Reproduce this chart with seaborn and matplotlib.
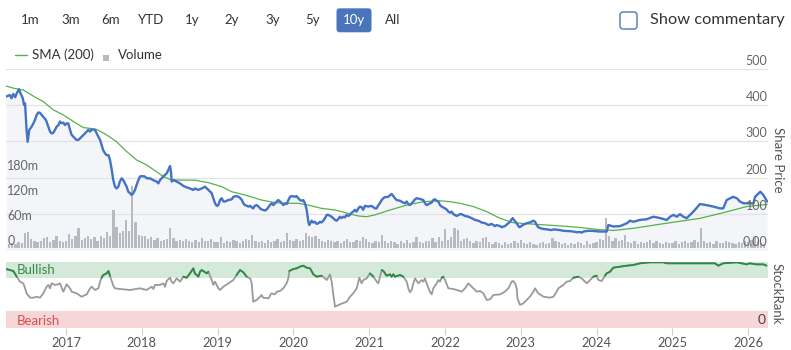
import numpy as np
import pandas as pd
import matplotlib
matplotlib.use("Agg")
import matplotlib.pyplot as plt
import matplotlib.transforms as mtrans
from matplotlib.patches import FancyBboxPatch, Rectangle
from matplotlib.lines import Line2D
import seaborn as sns

# ---------------------------------------------------------------- data
price_t = [2016.21, 2016.26, 2016.28, 2016.305, 2016.33, 2016.35, 2016.38, 2016.40, 2016.43, 2016.446,
           2016.46, 2016.48, 2016.494, 2016.516, 2016.547, 2016.57, 2016.59, 2016.613, 2016.635, 2016.657,
           2016.68, 2016.70, 2016.736, 2016.767, 2016.79, 2016.81, 2016.833, 2016.855, 2016.877, 2016.90,
           2016.92, 2016.943, 2016.965, 2016.987, 2017.009, 2017.03, 2017.053, 2017.075, 2017.097, 2017.14,
           2017.163, 2017.207, 2017.25, 2017.273, 2017.295, 2017.317, 2017.34, 2017.383, 2017.405, 2017.427,
           2017.45, 2017.47, 2017.49, 2017.515, 2017.536, 2017.56, 2017.58, 2017.60, 2017.624, 2017.646,
           2017.668, 2017.69, 2017.71, 2017.734, 2017.756, 2017.778, 2017.80, 2017.822, 2017.844, 2017.866,
           2017.888, 2017.91, 2017.932, 2017.954, 2017.976, 2017.998, 2018.042, 2018.064, 2018.108, 2018.152,
           2018.196, 2018.218, 2018.24, 2018.284, 2018.328, 2018.35, 2018.372, 2018.385, 2018.394, 2018.416,
           2018.46, 2018.504, 2018.548, 2018.592, 2018.636, 2018.68, 2018.702, 2018.746, 2018.79, 2018.834,
           2018.878, 2018.922, 2018.944, 2018.966, 2018.988, 2019.01, 2019.032, 2019.054, 2019.076, 2019.098,
           2019.142, 2019.186, 2019.208, 2019.25, 2019.275, 2019.30, 2019.32, 2019.34, 2019.36, 2019.41,
           2019.43, 2019.45, 2019.47, 2019.49, 2019.516, 2019.54, 2019.56, 2019.58, 2019.626, 2019.648,
           2019.67, 2019.69, 2019.714, 2019.736, 2019.758, 2019.78, 2019.80, 2019.824, 2019.846, 2019.868,
           2019.89, 2019.912, 2019.934, 2019.956, 2019.978, 2020.02, 2020.04, 2020.065, 2020.087, 2020.11,
           2020.13, 2020.153, 2020.175, 2020.188, 2020.197, 2020.21, 2020.24, 2020.26, 2020.285, 2020.306,
           2020.33, 2020.35, 2020.37, 2020.395, 2020.417, 2020.44, 2020.46, 2020.504, 2020.55, 2020.57,
           2020.59, 2020.614, 2020.636, 2020.658, 2020.68, 2020.70, 2020.724, 2020.746, 2020.768, 2020.79,
           2020.81, 2020.834, 2020.856, 2020.878, 2020.90, 2020.92, 2020.944, 2020.99, 2021.03, 2021.076,
           2021.098, 2021.12, 2021.14, 2021.164, 2021.186, 2021.208, 2021.25, 2021.296, 2021.34, 2021.362,
           2021.406, 2021.45, 2021.472, 2021.494, 2021.516, 2021.538, 2021.56, 2021.582, 2021.604, 2021.626,
           2021.67, 2021.714, 2021.736, 2021.758, 2021.802, 2021.824, 2021.846, 2021.868, 2021.89, 2021.912,
           2021.934, 2021.956, 2022.0, 2022.022, 2022.044, 2022.066, 2022.088, 2022.11, 2022.154, 2022.198,
           2022.22, 2022.264, 2022.308, 2022.352, 2022.396, 2022.44, 2022.484, 2022.528, 2022.572, 2022.616,
           2022.66, 2022.68, 2022.726, 2022.748, 2022.79, 2022.836, 2022.858, 2022.88, 2022.893, 2022.91,
           2022.937, 2022.96, 2022.98, 2023.0, 2023.024, 2023.077, 2023.12, 2023.166, 2023.188, 2023.21,
           2023.23, 2023.275, 2023.341, 2023.407, 2023.43, 2023.517, 2023.56, 2023.65, 2023.693, 2023.737,
           2023.78, 2023.803, 2023.825, 2023.89, 2023.935, 2024.045, 2024.133, 2024.155, 2024.22, 2024.31,
           2024.40, 2024.44, 2024.485, 2024.57, 2024.66, 2024.75, 2024.84, 2024.925, 2024.97, 2025.013,
           2025.057, 2025.10, 2025.144, 2025.188, 2025.276, 2025.364, 2025.45, 2025.54, 2025.628, 2025.67,
           2025.716, 2025.80, 2025.85, 2025.89, 2025.94, 2026.03, 2026.07, 2026.09, 2026.16, 2026.20,
           2026.25]
price = [424, 428, 419, 431, 422, 433, 444, 433, 419, 401,
         405, 332, 299, 332, 341, 350, 359, 373, 380, 379,
         373, 368, 359, 341, 327, 322, 324, 332, 341, 345,
         355, 350, 352, 345, 350, 350, 332, 318, 313, 304,
         304, 313, 322, 327, 332, 327, 333, 332, 322, 313,
         304, 290, 276, 267, 262, 262, 249, 226, 193, 175,
         170, 175, 189, 198, 193, 184, 175, 161, 157, 152,
         157, 166, 180, 193, 203, 204, 203, 198, 198, 193,
         189, 184, 193, 203, 212, 221, 232, 216, 189, 193,
         189, 184, 177, 173, 170, 166, 170, 166, 170, 175,
         166, 157, 143, 129, 122, 124, 138, 143, 134, 134,
         138, 140, 147, 149, 147, 143, 138, 129, 124, 120,
         122, 118, 115, 122, 124, 120, 115, 112, 109, 112,
         118, 124, 129, 124, 129, 134, 138, 134, 129, 124,
         129, 127, 138, 147, 149, 147, 149, 143, 138, 136,
         138, 129, 111, 92, 78, 69, 81, 76, 78, 72,
         74, 78, 76, 81, 88, 97, 97, 92, 83, 81,
         85, 92, 88, 92, 90, 97, 94, 97, 103, 106,
         111, 106, 115, 120, 118, 111, 122, 120, 122, 115,
         115, 124, 129, 138, 143, 146, 147, 155, 143, 138,
         136, 131, 129, 134, 127, 124, 129, 134, 140, 143,
         141, 138, 129, 124, 129, 131, 138, 140, 136, 134,
         124, 120, 115, 112, 106, 103, 106, 99, 94, 99,
         99, 94, 92, 88, 83, 81, 76, 74, 69, 72,
         66, 69, 66, 63, 66, 74, 78, 85, 88, 83,
         76, 69, 63, 65, 69, 74, 76, 81, 78, 69,
         63, 59, 57, 55, 57, 55, 53, 52, 51, 49,
         50, 48, 51, 53, 53, 51, 51, 69, 65, 66,
         74, 81, 78, 83, 85, 92, 88, 83, 92, 97,
         92, 99, 92, 88, 106, 127, 124, 120, 115, 115,
         138, 147, 143, 134, 129, 129, 129, 147, 161, 152,
         134]

sma_t = [2016.21, 2016.305, 2016.437, 2016.57, 2016.70, 2016.833, 2016.965, 2017.097, 2017.23, 2017.317,
         2017.405, 2017.536, 2017.668, 2017.80, 2017.93, 2018.064, 2018.196, 2018.284, 2018.372, 2018.504,
         2018.636, 2018.70, 2018.878, 2019.054, 2019.186, 2019.36, 2019.58, 2019.758, 2019.89, 2020.065,
         2020.197, 2020.37, 2020.55, 2020.724, 2020.856, 2020.966, 2021.076, 2021.208, 2021.274, 2021.494,
         2021.714, 2021.934, 2022.066, 2022.198, 2022.374, 2022.55, 2022.726, 2022.9, 2023.12, 2023.341,
         2023.56, 2023.737, 2023.913, 2024.045, 2024.22, 2024.485, 2024.925, 2025.364, 2025.67, 2025.98,
         2026.25]
sma = [453, 447, 442, 425, 410, 387, 373, 355, 338, 336,
       333, 318, 299, 272, 249, 235, 216, 203, 195, 193,
       193, 193, 186, 175, 161, 152, 138, 131, 129, 129,
       124, 115, 110.5, 101, 94, 92, 97, 106, 110.5, 124,
       133.5, 136, 133.5, 129, 120, 106, 87.5, 75.5, 72, 69,
       66, 63, 59, 56, 54, 60, 74, 87.5, 103, 120,
       126]

# traded volume, millions of shares, twice a month from 2016.25
volume_start = 2016.25
volume = [10, 12, 9, 14, 11, 36, 38, 22, 16, 14, 18, 25, 27, 15, 20, 30, 18, 14,
          18, 34, 22, 28, 48, 20, 25, 30, 22, 26, 18, 28, 24, 39, 30, 91, 51, 36, 42, 67, 40, 148, 63, 32,
          28, 30, 22, 26, 20, 24, 18, 20, 22, 48, 25, 18, 20, 16, 22, 18, 15, 20, 14, 25, 18, 16, 22, 15,
          14, 27, 12, 18, 15, 20, 16, 13, 18, 22, 20, 31, 16, 14, 18, 12, 20, 15, 17, 22, 14, 16, 35, 20,
          18, 22, 16, 20, 35, 30, 26, 28, 22, 18, 15, 20, 17, 14, 16, 12, 18, 22, 15, 14, 20, 16, 27, 22,
          15, 12, 18, 14, 31, 16, 12, 18, 14, 10, 16, 13, 20, 12, 15, 27, 14, 12, 16, 18, 24, 15, 26, 18,
          45, 20, 26, 47, 44, 18, 22, 25, 16, 12, 18, 15, 24, 27, 14, 10, 15, 12, 8, 14, 10, 12, 16, 11,
          20, 12, 9, 14, 10, 8, 12, 15, 10, 13, 25, 18, 14, 9, 12, 8, 11, 10, 14, 12, 8, 16, 10, 12,
          14, 22, 20, 71, 30, 18, 24, 16, 20, 31, 14, 12, 18, 10, 15, 12, 14, 20, 11, 16, 13, 10, 15, 12,
          12, 16, 10, 14, 18, 12, 15, 20, 14, 47, 16, 12, 14, 10, 16, 12, 13, 18, 15, 12, 10, 14, 11, 16,
          14, 20, 27, 16, 12, 10]

rank_t = [2016.21, 2016.305, 2016.35, 2016.393, 2016.437, 2016.46, 2016.48, 2016.525, 2016.57, 2016.613,
          2016.657, 2016.70, 2016.745, 2016.767, 2016.79, 2016.81, 2016.855, 2016.90, 2016.92, 2016.965,
          2017.009, 2017.053, 2017.075, 2017.14, 2017.207, 2017.273, 2017.317, 2017.34, 2017.383, 2017.427,
          2017.45, 2017.47, 2017.49, 2017.536, 2017.56, 2017.58, 2017.624, 2017.646, 2017.712, 2017.844,
          2017.976, 2018.064, 2018.13, 2018.152, 2018.174, 2018.24, 2018.284, 2018.306, 2018.328, 2018.372,
          2018.394, 2018.416, 2018.46, 2018.504, 2018.548, 2018.592, 2018.636, 2018.68, 2018.70, 2018.746,
          2018.768, 2018.79, 2018.856, 2018.878, 2018.922, 2018.944, 2018.966, 2019.01, 2019.032, 2019.076,
          2019.164, 2019.208, 2019.25, 2019.296, 2019.34, 2019.384, 2019.43, 2019.45, 2019.47, 2019.515,
          2019.56, 2019.58, 2019.60, 2019.67, 2019.71, 2019.757, 2019.78, 2019.823, 2019.867, 2019.91,
          2019.933, 2019.946, 2019.999, 2020.043, 2020.087, 2020.13, 2020.175, 2020.22, 2020.263, 2020.307,
          2020.373, 2020.417, 2020.44, 2020.483, 2020.505, 2020.527, 2020.549, 2020.615, 2020.703, 2020.747,
          2020.79, 2020.835, 2020.857, 2020.87, 2020.90, 2020.922, 2020.966, 2021.01, 2021.055, 2021.10,
          2021.12, 2021.165, 2021.187, 2021.23, 2021.274, 2021.296, 2021.318, 2021.34, 2021.406, 2021.45,
          2021.494, 2021.516, 2021.538, 2021.56, 2021.582, 2021.604, 2021.65, 2021.67, 2021.692, 2021.714,
          2021.736, 2021.758, 2021.80, 2021.824, 2021.846, 2021.89, 2021.912, 2021.934, 2021.956, 2021.978,
          2022.0, 2022.044, 2022.11, 2022.198, 2022.22, 2022.264, 2022.308, 2022.352, 2022.396, 2022.418,
          2022.462, 2022.506, 2022.55, 2022.594, 2022.638, 2022.726, 2022.79, 2022.836, 2022.88, 2022.90,
          2022.924, 2022.946, 2022.955, 2022.99, 2023.034, 2023.077, 2023.12, 2023.166, 2023.188, 2023.23,
          2023.30, 2023.385, 2023.43, 2023.473, 2023.495, 2023.56, 2023.605, 2023.65, 2023.693, 2023.76,
          2023.803, 2023.825, 2023.87, 2023.913, 2023.957, 2024.0, 2024.023, 2024.067, 2024.11, 2024.133,
          2024.177, 2024.22, 2024.31, 2024.40, 2024.485, 2024.573, 2024.705, 2024.88, 2024.925, 2025.057,
          2025.23, 2025.41, 2025.56, 2025.606, 2025.67, 2025.85, 2025.98, 2026.02, 2026.11, 2026.20,
          2026.24]
rank = [89.3, 86.3, 77.6, 70, 67.4, 59.8, 52.2, 45.5, 45.5, 47,
        45.5, 52.2, 62.3, 65, 59.8, 67.4, 65, 66, 67.4, 54.7,
        66, 59.8, 54.7, 52.2, 47, 50.6, 59.8, 62.3, 57.3, 59.8,
        70, 76, 80, 82.7, 86.3, 79, 63.9, 59.8, 58.8, 57.3,
        59.8, 57.3, 62.3, 58.8, 65, 65, 67.4, 62.3, 71, 76,
        70, 67.4, 75, 70, 77.6, 76, 82.7, 90.3, 82.7, 77.6,
        85.2, 87.8, 82.7, 85.2, 72.5, 65, 70, 59.8, 57.3, 62.3,
        69, 72.5, 80, 87.8, 84.2, 77.6, 75, 67.4, 39.4, 42,
        47, 49.6, 45.5, 44.5, 52.2, 50.6, 54.7, 55.7, 59.8, 67.4,
        75, 86.3, 89.3, 90.3, 92.9, 94.4, 91.3, 90.3, 81.2, 77.6,
        79.1, 75, 72.5, 81.2, 70, 49.6, 31.8, 35.4, 39.4, 47,
        52.2, 59.8, 70, 76, 67.4, 72.5, 75, 82.7, 77.6, 70,
        67.4, 87.8, 86.3, 79, 81.2, 77.6, 81.2, 77.6, 80.2, 77.6,
        70, 59.8, 53.7, 57.3, 67.4, 75, 67.4, 70, 72.5, 70,
        75, 67.4, 54.7, 50.6, 59.8, 67.4, 72.5, 70, 76, 77.6,
        72.5, 59.8, 58.8, 55.7, 54.7, 59.8, 67.4, 62.3, 57.3, 54.7,
        55.7, 52.2, 42, 43, 49.6, 50.6, 54.7, 59.8, 70, 71,
        67.4, 59.8, 44.5, 34.4, 36.9, 42, 47, 54.7, 59.8, 52.2,
        47, 45.5, 47, 54.7, 59.8, 64.9, 70, 71, 76, 77.6,
        75, 72.5, 67.4, 72.5, 77.6, 79.1, 72.5, 71, 79.1, 82.7,
        85.2, 91.3, 92.9, 94.4, 95.4, 98, 99.5, 99.5, 98, 98,
        98, 98, 98, 94.4, 98, 99.5, 96.4, 98, 96.4, 96.4,
        94.4]

years = list(range(2017, 2027))
price_ticks = [0, 100, 200, 300, 400, 500]
price_tick_labels = ["0.00", "100", "200", "300", "400", "500"]
volume_ticks = [0, 60, 120, 180]
volume_tick_labels = ["0", "60m", "120m", "180m"]
range_buttons = ["1m", "3m", "6m", "YTD", "1y", "2y", "3y", "5y", "10y", "All"]
selected_range = "10y"
bullish_floor = 76
bearish_ceiling = 25

# ---------------------------------------------------------------- style
sns.set_theme(style="white")
plt.rcParams["font.family"] = ["Lato", "DejaVu Sans"]

W, H = 791, 350
BLUE = "#4472c4"
SMA_GREEN = "#55b24a"
RANK_GREEN = "#2a8a3e"
RANK_GREY = "#9a9a9a"
GRID = "#e3e3e3"
TICK_TXT = "#666666"
TEXT = "#333333"

fig = plt.figure(figsize=(W / 100, H / 100), dpi=100)
fig.patch.set_facecolor("white")


def rect(left, top, right, bottom):
    return [left / W, 1 - bottom / H, (right - left) / W, (bottom - top) / H]


xlim = (2016.2085, 2026.261)
main_rect = rect(6, 69, 768, 250)

# background layer: price area fill and grid
ax_bg = fig.add_axes(main_rect)
# volume layer
ax_vol = fig.add_axes(main_rect)
# price line layer
ax = fig.add_axes(main_rect)
# StockRank panel
ax_rank = fig.add_axes(rect(6, 262, 768, 327.5))

for a in (ax_bg, ax_vol, ax, ax_rank):
    a.set_xlim(*xlim)
    for s in a.spines.values():
        s.set_visible(False)
    a.set_xlabel("")
    a.set_ylabel("")
for a in (ax_vol, ax):
    a.patch.set_visible(False)
for a in (ax_bg, ax_vol, ax):
    a.set_xticks([])
    a.set_yticks([])

ax_bg.set_ylim(0, 500)
ax.set_ylim(0, 500)
ax_vol.set_ylim(-4.8, 430)

# area under the share price
ax_bg.fill_between(price_t, price, 0, color="#f3f5f9", lw=0)
for v in price_ticks[1:]:
    ax_bg.axhline(v, color=GRID, lw=0.9, zorder=1)
ax_bg.axhline(0, color="#d8d8d8", lw=0.9, zorder=1)

# volume bars
vol_t = volume_start + np.arange(len(volume)) / 24
ax_vol.bar(vol_t, volume, width=0.03, color="#b7bac1", lw=0, align="center")

# price and 200-day SMA
price_df = pd.DataFrame({"t": price_t, "p": price})
sma_df = pd.DataFrame({"t": sma_t, "p": sma})
sns.lineplot(data=sma_df, x="t", y="p", ax=ax, color=SMA_GREEN, lw=0.9, legend=False)
sns.lineplot(data=price_df, x="t", y="p", ax=ax, color=BLUE, lw=1.7, legend=False)
ax.set_xlabel("")
ax.set_ylabel("")
ax.set_xlim(*xlim)
ax.set_ylim(0, 500)

# price tick labels (right, above grid lines)
lab_tr = mtrans.offset_copy(ax.get_yaxis_transform(), fig=fig, x=0, y=1.5, units="points")
for v, s in zip(price_ticks, price_tick_labels):
    ax.text(0.999, v, s, transform=lab_tr, ha="right", va="bottom",
            fontsize=9, color=TICK_TXT)

# volume tick labels (left)
vlab_tr = mtrans.offset_copy(ax_vol.get_yaxis_transform(), fig=fig, x=0, y=0.5, units="points")
for v, s in zip(volume_ticks, volume_tick_labels):
    ax_vol.text(0.0015, v, s, transform=vlab_tr, ha="left", va="bottom",
                fontsize=9, color=TICK_TXT)

# ---------------------------------------------------------------- StockRank
ax_rank.set_ylim(0, 100)
ax_rank.axhspan(bullish_floor, 100, color="#d4e9da", lw=0)
ax_rank.axhspan(0, bearish_ceiling, color="#f6d6d6", lw=0)

r = np.asarray(rank, dtype=float)
rt = np.asarray(rank_t, dtype=float)
bull = r >= bullish_floor
seg = np.cumsum(np.r_[True, bull[1:] != bull[:-1]])
rank_df = pd.DataFrame({"t": rt, "r": r})
green_df = pd.DataFrame({"t": rt[bull], "r": r[bull], "seg": seg[bull]})
sns.lineplot(data=rank_df, x="t", y="r", ax=ax_rank, color=RANK_GREY, lw=1.3, legend=False)
sns.lineplot(data=green_df, x="t", y="r", units="seg", estimator=None, ax=ax_rank,
             color=RANK_GREEN, lw=1.3, legend=False)
ax_rank.set_xlim(*xlim)
ax_rank.set_ylim(0, 100)
ax_rank.set_xlabel("")
ax_rank.set_ylabel("")
ax_rank.set_yticks([])
ax_rank.set_xticks(years)
ax_rank.set_xticklabels([str(y) for y in years])
ax_rank.tick_params(axis="x", bottom=True, length=5, width=0.8, color="#cfcfcf",
                    labelsize=9.3, labelcolor="#555555", pad=1.5, direction="out")

ax_rank.text(0.014, 88, "Bullish", transform=ax_rank.get_yaxis_transform(),
             ha="left", va="center", fontsize=9.5, color="#3a8a4c")
ax_rank.text(0.014, 10, "Bearish", transform=ax_rank.get_yaxis_transform(),
             ha="left", va="center", fontsize=9.5, color="#d64f52")
ax_rank.text(0.997, 12, "0", transform=ax_rank.get_yaxis_transform(),
             ha="right", va="center", fontsize=10, color="#444444")

# axis titles on the right
fig.text(778 / W, 1 - 160 / H, "Share Price", rotation=-90, ha="center", va="center",
         fontsize=9.5, color="#555555")
fig.text(777 / W, 1 - 294 / H, "StockRank", rotation=-90, ha="center", va="center",
         fontsize=9.5, color="#555555")

# ---------------------------------------------------------------- header
button_x = [30, 71, 111, 151, 192, 232, 273, 313, 353.5, 393]
for label, bx in zip(range_buttons, button_x):
    if label == selected_range:
        fig.patches.append(FancyBboxPatch((336.5, H - 32.3), 35, 24,
                                          boxstyle="round,pad=0,rounding_size=3",
                                          transform=mtrans.IdentityTransform(),
                                          facecolor="#4a75bd", edgecolor="none"))
        col = "white"
    else:
        col = TEXT
    fig.text(bx / W, 1 - 19.5 / H, label, ha="center", va="center", fontsize=9.5, color=col)

# commentary checkbox
fig.patches.append(FancyBboxPatch((620, H - 29), 17, 17,
                                  boxstyle="round,pad=0,rounding_size=3",
                                  transform=mtrans.IdentityTransform(),
                                  facecolor="white", edgecolor="#5b82c9", lw=1.1))
fig.text(650 / W, 1 - 20 / H, "Show commentary", ha="left", va="center",
         fontsize=11.8, color=TEXT)

# legend
fig.lines.append(Line2D([15, 27], [H - 55, H - 55], transform=mtrans.IdentityTransform(),
                        color=SMA_GREEN, lw=1.0))
fig.text(32 / W, 1 - 55 / H, "SMA (200)", ha="left", va="center", fontsize=9.5, color=TEXT)
fig.patches.append(Rectangle((103, H - 61), 6, 6, transform=mtrans.IdentityTransform(),
                             facecolor="#b7bac1", edgecolor="none"))
fig.text(118 / W, 1 - 55 / H, "Volume", ha="left", va="center", fontsize=9.5, color=TEXT)

fig.savefig("out.png", dpi=100, facecolor="white")
